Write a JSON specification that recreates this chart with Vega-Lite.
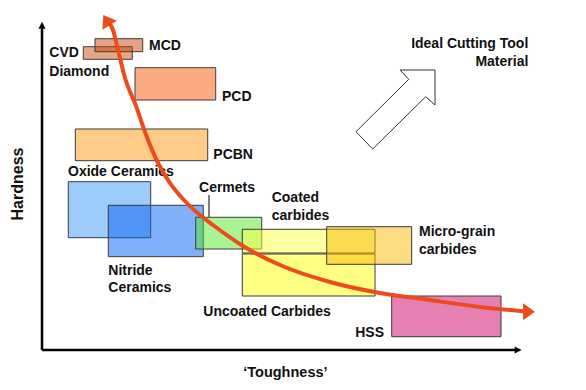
{
  "$schema": "https://vega.github.io/schema/vega-lite/v6.json",
  "width": 478,
  "height": 328,
  "autosize": "none",
  "padding": {"left": 42, "top": 22, "right": 66, "bottom": 40},
  "background": "white",
  "config": {"view": {"stroke": null}, "axis": {"disable": true}},
  "datasets": {
    "boxes": [
      {"m": "CVD Diamond", "x": 8.64, "x2": 18.89, "y": 92.47, "y2": 88.63},
      {"m": "MCD", "x": 11.09, "x2": 21.07, "y": 94.91, "y2": 90.94},
      {"m": "PCD", "x": 19.46, "x2": 36.34, "y": 86.07, "y2": 76.22},
      {"m": "PCBN", "x": 6.97, "x2": 34.67, "y": 67.38, "y2": 57.71},
      {"m": "Oxide Ceramics", "x": 5.5, "x2": 22.74, "y": 51.31, "y2": 34.24},
      {"m": "Nitride Ceramics", "x": 13.87, "x2": 33.74, "y": 44.12, "y2": 28.45},
      {"m": "Cermets", "x": 32.15, "x2": 45.96, "y": 40.46, "y2": 30.79},
      {"m": "Coated carbides", "x": 41.9, "x2": 69.67, "y": 36.8, "y2": 29.57},
      {"m": "Uncoated Carbides", "x": 41.9, "x2": 69.67, "y": 29.27, "y2": 16.46},
      {"m": "Micro-grain carbides", "x": 59.56, "x2": 77.34, "y": 37.59, "y2": 26.13},
      {"m": "HSS", "x": 73.16, "x2": 96.03, "y": 16.46, "y2": 4.05}
    ],
    "curve": [
      {"x": 13.49, "y": 100.58}, {"x": 14.85, "y": 97.56}, {"x": 15.9, "y": 91.46},
      {"x": 17.36, "y": 82.93}, {"x": 19.67, "y": 74.39}, {"x": 21.55, "y": 66.46},
      {"x": 24.27, "y": 57.01}, {"x": 26.78, "y": 50.91}, {"x": 29.5, "y": 46.04},
      {"x": 33.05, "y": 41.16}, {"x": 35.77, "y": 38.11}, {"x": 42.05, "y": 31.71},
      {"x": 49.79, "y": 25.91}, {"x": 60.25, "y": 20.73}, {"x": 70.71, "y": 17.38},
      {"x": 81.17, "y": 15.24}, {"x": 91.63, "y": 13.11}, {"x": 101.88, "y": 11.68}
    ],
    "ideal": [
      {"i": 0, "x": 65.69, "y": 66.55}, {"i": 1, "x": 76.72, "y": 82.53},
      {"i": 2, "x": 74.9, "y": 85.37}, {"i": 3, "x": 82.22, "y": 85.37},
      {"i": 4, "x": 82.22, "y": 74.7}, {"i": 5, "x": 80.27, "y": 77.23},
      {"i": 6, "x": 69.18, "y": 61.28}, {"i": 7, "x": 65.69, "y": 66.55}
    ],
    "leftLabels": [
      {"t": "MCD", "x": 22.38, "y": 92.77},
      {"t": "CVD", "x": 1.53, "y": 90.46},
      {"t": "Diamond", "x": 1.53, "y": 84.85},
      {"t": "PCD", "x": 37.66, "y": 77.23},
      {"t": "PCBN", "x": 35.84, "y": 59.45},
      {"t": "Oxide Ceramics", "x": 5.44, "y": 54.36},
      {"t": "Cermets", "x": 32.85, "y": 49.3},
      {"t": "Coated", "x": 48.05, "y": 46.25},
      {"t": "carbides", "x": 48.05, "y": 40.95},
      {"t": "Micro-grain", "x": 78.87, "y": 35.88},
      {"t": "carbides", "x": 78.87, "y": 30.49},
      {"t": "Nitride", "x": 13.87, "y": 24.18},
      {"t": "Ceramics", "x": 13.87, "y": 18.81},
      {"t": "Uncoated Carbides", "x": 33.74, "y": 11.49}
    ],
    "rightLabels": [
      {"t": "HSS", "x": 71.55, "y": 5.09},
      {"t": "Ideal Cutting Tool", "x": 101.74, "y": 93.2},
      {"t": "Material", "x": 101.74, "y": 87.71}
    ]
  },
  "layer": [
    {
      "data": {"values": [{"x": 0, "y": 0, "x2": 0, "y2": 99.0}, {"x": 0, "y": 0, "x2": 99.6, "y2": 0}]},
      "mark": {"type": "rule", "color": "#000000", "strokeWidth": 2.5},
      "encoding": {
        "x": {"field": "x", "type": "quantitative", "scale": {"domain": [0, 100], "nice": false, "zero": false}},
        "y": {"field": "y", "type": "quantitative", "scale": {"domain": [0, 100], "nice": false, "zero": false}},
        "x2": {"field": "x2"},
        "y2": {"field": "y2"}
      }
    },
    {
      "data": {"values": [{"x": 0, "y": 99.02}]},
      "mark": {"type": "point", "shape": "M0,-1L1,1L-1,1Z", "size": 49, "filled": true, "color": "#000000", "opacity": 1, "angle": 0},
      "encoding": {
        "x": {"field": "x", "type": "quantitative"},
        "y": {"field": "y", "type": "quantitative"}
      }
    },
    {
      "data": {"values": [{"x": 99.62, "y": 0}]},
      "mark": {"type": "point", "shape": "M0,-1L1,1L-1,1Z", "size": 49, "filled": true, "color": "#000000", "opacity": 1, "angle": 90},
      "encoding": {
        "x": {"field": "x", "type": "quantitative"},
        "y": {"field": "y", "type": "quantitative"}
      }
    },
    {
      "data": {"name": "boxes"},
      "mark": {"type": "rect", "fillOpacity": 0.5, "stroke": "#3a3a3a", "strokeWidth": 1},
      "encoding": {
        "x": {"field": "x", "type": "quantitative"},
        "x2": {"field": "x2"},
        "y": {"field": "y", "type": "quantitative"},
        "y2": {"field": "y2"},
        "color": {
          "field": "m", "type": "nominal", "legend": null,
          "scale": {
            "domain": ["CVD Diamond", "MCD", "PCD", "PCBN", "Oxide Ceramics", "Nitride Ceramics", "Cermets", "Coated carbides", "Uncoated Carbides", "Micro-grain carbides", "HSS"],
            "range": ["#CF4D12", "#C8440F", "#F95500", "#FF9911", "#3B97F7", "#0161F1", "#55E529", "#FFFF41", "#FFFF05", "#F7B901", "#CD0167"]
          }
        }
      }
    },
    {
      "data": {"values": [{"x": 34.94, "y": 47.26, "y2": 40.55}]},
      "mark": {"type": "rule", "color": "#555555", "strokeWidth": 1.5},
      "encoding": {
        "x": {"field": "x", "type": "quantitative"},
        "y": {"field": "y", "type": "quantitative"},
        "y2": {"field": "y2"}
      }
    },
    {
      "data": {"name": "ideal"},
      "mark": {"type": "line", "color": "#333333", "strokeWidth": 1, "strokeJoin": "miter"},
      "encoding": {
        "x": {"field": "x", "type": "quantitative"},
        "y": {"field": "y", "type": "quantitative"},
        "order": {"field": "i", "type": "quantitative"}
      }
    },
    {
      "data": {"name": "leftLabels"},
      "mark": {"type": "text", "align": "left", "baseline": "middle", "font": "Liberation Sans", "fontWeight": "bold", "fontSize": 14, "color": "#111111"},
      "encoding": {
        "x": {"field": "x", "type": "quantitative"},
        "y": {"field": "y", "type": "quantitative"},
        "text": {"field": "t"}
      }
    },
    {
      "data": {"name": "rightLabels"},
      "mark": {"type": "text", "align": "right", "baseline": "middle", "font": "Liberation Sans", "fontWeight": "bold", "fontSize": 14, "color": "#111111"},
      "encoding": {
        "x": {"field": "x", "type": "quantitative"},
        "y": {"field": "y", "type": "quantitative"},
        "text": {"field": "t"}
      }
    },
    {
      "data": {"values": [{"t": "‘Toughness’", "x": 50.92, "y": -7.1}]},
      "mark": {"type": "text", "align": "center", "baseline": "middle", "font": "Liberation Sans", "fontWeight": "bold", "fontSize": 14.5, "color": "#111111"},
      "encoding": {
        "x": {"field": "x", "type": "quantitative"},
        "y": {"field": "y", "type": "quantitative"},
        "text": {"field": "t"}
      }
    },
    {
      "data": {"values": [{"t": "Hardness", "x": -4.96, "y": 50.61}]},
      "mark": {"type": "text", "align": "center", "baseline": "middle", "angle": 270, "font": "Liberation Sans", "fontWeight": "bold", "fontSize": 16, "color": "#111111"},
      "encoding": {
        "x": {"field": "x", "type": "quantitative"},
        "y": {"field": "y", "type": "quantitative"},
        "text": {"field": "t"}
      }
    },
    {
      "data": {"name": "curve"},
      "mark": {"type": "line", "color": "#EE4B1C", "strokeWidth": 4, "interpolate": "monotone"},
      "encoding": {
        "x": {"field": "x", "type": "quantitative"},
        "y": {"field": "y", "type": "quantitative"}
      }
    },
    {
      "data": {"values": [{"x": 13.49, "y": 100.58}]},
      "mark": {"type": "point", "shape": "M0,-0.7L1,0.7L-1,0.7Z", "size": 289, "filled": true, "color": "#EE4B1C", "opacity": 1, "angle": -32},
      "encoding": {
        "x": {"field": "x", "type": "quantitative"},
        "y": {"field": "y", "type": "quantitative"}
      }
    },
    {
      "data": {"values": [{"x": 101.88, "y": 11.68}]},
      "mark": {"type": "point", "shape": "M0,-0.7L1,0.7L-1,0.7Z", "size": 289, "filled": true, "color": "#EE4B1C", "opacity": 1, "angle": 90},
      "encoding": {
        "x": {"field": "x", "type": "quantitative"},
        "y": {"field": "y", "type": "quantitative"}
      }
    }
  ]
}
